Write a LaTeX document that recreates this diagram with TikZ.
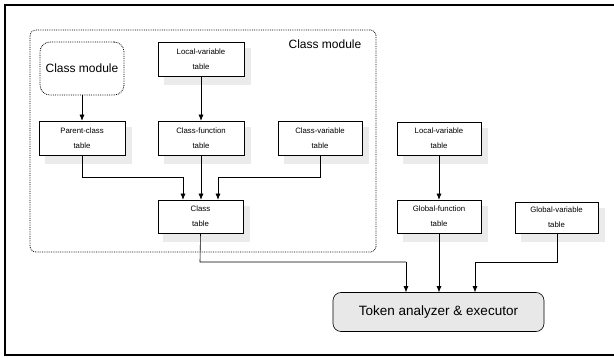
\documentclass[tikz,border=0pt]{standalone}
\usepackage{fontspec}
\setmainfont{Liberation Sans}
\usetikzlibrary{arrows.meta}
\begin{document}
\begin{tikzpicture}[x=1pt,y=-1pt,
  tbl/.style={draw,line width=0.6pt,fill=white,font=\fontsize{7.8}{15}\selectfont,align=center,inner sep=0pt},
  shd/.style={fill=gray!16,draw=none},
  arr/.style={line width=0.6pt,-{Latex[length=6pt,width=5pt]}},
  ln/.style={line width=0.6pt}]
\useasboundingbox (0,0) rectangle (614,358);
\draw[line width=1.6pt] (614,5) -- (5,5) -- (5,355) -- (616,355);
% outer class module
\node[draw,densely dotted,line width=0.8pt,rounded corners=6pt,minimum width=346pt,minimum height=222pt,inner sep=0pt] (cm) at (203,141) {};
\node[font=\fontsize{12}{14}\selectfont] (cmlabel) at (325,44) {Class module};
% inner class module
\node[draw,densely dotted,line width=0.8pt,rounded corners=10pt,minimum width=84pt,minimum height=53pt,inner sep=0pt,font=\fontsize{12}{14}\selectfont] (icm) at (82,68.5) {Class module};
% shadows
\fill[shd] (164,48) rectangle (251,85);
\fill[shd] (45,127) rectangle (132,164);
\fill[shd] (164,127) rectangle (251,164);
\fill[shd] (284,127) rectangle (369,164);
\fill[shd] (163,206) rectangle (250,242);
\fill[shd] (403,128) rectangle (488,164);
\fill[shd] (403,206) rectangle (488,242);
\fill[shd] (521,208) rectangle (605,242);
% tables
\node[tbl,minimum width=86pt,minimum height=34pt] (lv1) at (201,59) {Local-variable\\table};
\node[tbl,minimum width=86pt,minimum height=34pt] (pc) at (82,138) {Parent-class\\table};
\node[tbl,minimum width=86pt,minimum height=34pt] (cf) at (201,138) {Class-function\\table};
\node[tbl,minimum width=84pt,minimum height=34pt] (cv) at (320,138) {Class-variable\\table};
\node[tbl,minimum width=85pt,minimum height=33pt] (ct) at (200.5,216.5) {Class\\table};
\node[tbl,minimum width=84pt,minimum height=33pt] (lv2) at (439,138.5) {Local-variable\\table};
\node[tbl,minimum width=84pt,minimum height=33pt] (gf) at (439,216.5) {Global-function\\table};
\node[tbl,minimum width=83pt,minimum height=31pt] (gv) at (556.5,217.5) {Global-variable\\table};
\node[draw,line width=0.6pt,fill=gray!18,rounded corners=8pt,minimum width=211pt,minimum height=39pt,inner sep=0pt,font=\fontsize{13.5}{16}\selectfont] (tok) at (438.5,312) {Token analyzer \& executor};
% coordinates
\coordinate (j1) at (82,177);
\coordinate (j2) at (183,177);
\coordinate (j3) at (320,177);
\coordinate (j4) at (218,177);
\coordinate (k1) at (200,262);
\coordinate (k2) at (406,262);
\coordinate (k3) at (557,262);
\coordinate (k4) at (475,262);
% arrows
\draw[arr] (icm.south) -- (pc.north);
\draw[arr] (lv1.south) -- (cf.north);
\draw[ln] (pc.south) -- (j1) -- (j2);
\draw[arr] (j2) -- (j2 |- ct.north);
\draw[arr] (cf.south) -- (cf.south |- ct.north);
\draw[ln] (cv.south) -- (j3) -- (j4);
\draw[arr] (j4) -- (j4 |- ct.north);
\draw[arr] (lv2.south) -- (gf.north);
\draw[ln] (ct.south) -- (k1) -- (k2);
\draw[arr] (k2) -- (k2 |- tok.north);
\draw[arr] (gf.south) -- (gf.south |- tok.north);
\draw[ln] (gv.south -| k3) -- (k3) -- (k4);
\draw[arr] (k4) -- (k4 |- tok.north);
\end{tikzpicture}
\end{document}
